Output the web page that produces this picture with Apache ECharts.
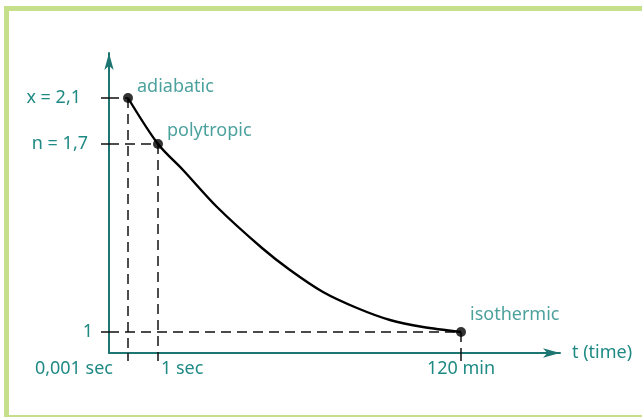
<!DOCTYPE html>
<html>
<head>
<meta charset="utf-8">
<script src="https://cdn.jsdelivr.net/npm/echarts@6/dist/echarts.min.js"></script>
<style>
html, body { margin: 0; padding: 0; background: #fff; overflow: hidden; }
#main { width: 642px; height: 417px; }
</style>
</head>
<body>
<div id="main"></div>
<script>
// schematic chart, axes are not to scale (positions)
var stateNames = ['adiabatic', 'polytropic', 'isothermic'];
var stateX = [1.9, 4.9, 35.2];
var stateY = [25.5, 20.9, 2.1];
var yTickLabels = ['x = 2,1', 'n = 1,7', '1'];
var xTickLabels = ['0,001 sec', '1 sec', '120 min'];
var curveX = [1.9, 4.9, 7.4, 10.8, 15.3, 18.1, 21.4, 24.8, 28.1, 31.4, 35.2];
var curveY = [25.5, 20.9, 18.3, 14.6, 10.5, 8.3, 6.1, 4.5, 3.3, 2.6, 2.1];

var TEAL = '#1f8a84';
var AXIS = '#1d7672';
var GREEN = '#c5df8b';
var FONT = '"Noto Sans", sans-serif';
var FS = 18;

function textWidth(s) {
    var ctx = document.createElement('canvas').getContext('2d');
    ctx.font = FS + 'px ' + FONT;
    return ctx.measureText(s).width;
}

function nearest(arr, v) {
    var best = 0;
    for (var i = 1; i < arr.length; i++) {
        if (Math.abs(arr[i] - v) < Math.abs(arr[best] - v)) best = i;
    }
    return best;
}

var txt = { color: TEAL, fontSize: FS, fontFamily: FONT };

// label nudges (style only)
var yLabelPad = [12, 5, 0];
var xLabelPad = [
    [0, textWidth(xTickLabels[0]) + 30, 0, 0],
    [0, 0, 0, textWidth(xTickLabels[1]) + 6],
    [0, 0, 0, 0]
];
var pointLabelShift = [[-1, -11], [-1, -13], [-1, -17]];

var yRich = {}, xRich = {};
for (var i = 0; i < 3; i++) {
    yRich['l' + i] = Object.assign({ padding: [0, yLabelPad[i], 0, 0] }, txt);
    xRich['l' + i] = Object.assign({ padding: xLabelPad[i] }, txt);
}

var curve = curveX.map(function (x, i) { return [x, curveY[i]]; });

var guides = [];
stateX.forEach(function (x, i) {
    var y = stateY[i];
    [[[0, y], [x, y]], [[x, y], [x, 0]]].forEach(function (seg) {
        guides.push({
            type: 'line', data: seg, symbol: 'none', silent: true, z: 1,
            lineStyle: { color: '#111', width: 1.5, type: [10, 6] }
        });
    });
});

// green page frame (top, left, bottom only)
var frame = [
    { type: 'rect', shape: { x: 4, y: 6, width: 640, height: 5 }, style: { fill: GREEN } },
    { type: 'rect', shape: { x: 4, y: 6, width: 5, height: 412 }, style: { fill: GREEN } },
    { type: 'rect', shape: { x: 4, y: 415, width: 640, height: 3 }, style: { fill: GREEN } }
];

var chart = echarts.init(document.getElementById('main'));
chart.setOption({
    animation: false,
    backgroundColor: '#fff',
    graphic: frame.map(function (g) { g.silent = true; g.z = -10; return g; }),
    grid: { left: 109, right: 82, top: 53, bottom: 64, outerBoundsMode: 'none' },
    xAxis: {
        type: 'value', min: 0, max: 45.1,
        name: 't (time)', nameLocation: 'end', nameGap: 12,
        nameTextStyle: txt,
        axisLine: { lineStyle: { color: AXIS, width: 2 }, symbol: ['none', 'arrow'], symbolSize: [7, 17] },
        axisTick: { customValues: stateX, length: 8, lineStyle: { color: '#111', width: 1.5 } },
        axisLabel: {
            customValues: stateX, margin: 7,
            formatter: function (v) { var k = nearest(stateX, v); return '{l' + k + '|' + xTickLabels[k] + '}'; },
            rich: xRich
        },
        splitLine: { show: false }
    },
    yAxis: {
        type: 'value', min: 0, max: 30,
        axisLine: { show: true, lineStyle: { color: AXIS, width: 2 }, symbol: ['none', 'arrow'], symbolSize: [7, 17] },
        axisTick: { show: true, customValues: stateY, length: 8, lineStyle: { color: '#111', width: 1.5 } },
        axisLabel: {
            customValues: stateY, margin: 16,
            formatter: function (v) { var k = nearest(stateY, v); return '{l' + k + '|' + yTickLabels[k] + '}'; },
            rich: yRich
        },
        splitLine: { show: false }
    },
    series: guides.concat([
        {
            type: 'line', data: curve, smooth: 0.3, symbol: 'none', z: 3,
            lineStyle: { color: '#000', width: 2.4 }
        },
        {
            type: 'scatter', z: 4, symbolSize: 10,
            itemStyle: { color: '#000' },
            data: stateX.map(function (x, i) {
                return {
                    value: [x, stateY[i]],
                    name: stateNames[i],
                    label: { offset: pointLabelShift[i] }
                };
            }),
            label: Object.assign({ show: true, position: 'right', distance: 5, formatter: '{b}' }, txt)
        }
    ])
});
</script>
</body>
</html>
